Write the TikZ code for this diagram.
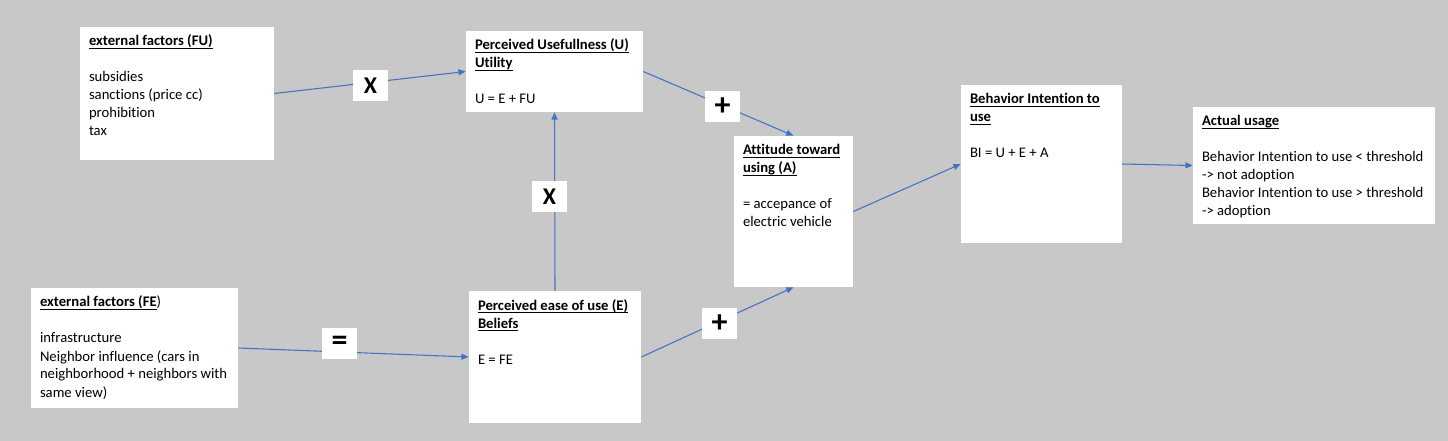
\documentclass[tikz,border=0pt]{standalone}
\usepackage{fontspec}
\setmainfont[Ligatures={NoCommon}]{Carlito}
\usetikzlibrary{arrows.meta}
\definecolor{bgc}{RGB}{200,200,200}
\definecolor{arrc}{RGB}{68,114,196}
\newdimen\pxu \pxu=0.75pt
\newcommand\myul[1]{\leavevmode\setbox0\hbox{#1}\rlap{\vrule width\wd0 height -1.5pt depth 2.2pt}\box0}
\begin{document}
\begin{tikzpicture}[x=0.75pt,y=-0.75pt,
  box/.style={fill=white,draw=none,inner sep=0pt},
  txt/.style={anchor=north west,align=left,inner sep=0pt,font=\fontsize{11}{13.5}\selectfont},
  lab/.style={fill=white,draw=none,inner sep=0pt,minimum width=35\pxu,minimum height=31\pxu,font=\fontsize{18}{20}\selectfont\bfseries},
  conn/.style={draw=arrc,line width=0.8pt,-{Triangle[length=5.5pt,width=4.5pt]}}]
\fill[bgc] (0,0) rectangle (1448,441);
\useasboundingbox (0,0) rectangle (1448,441);
% boxes
\node[box,minimum width=194\pxu,minimum height=133\pxu] (fu) at (177,93.5) {};
\node[box,minimum width=177\pxu,minimum height=81\pxu] (u) at (554.5,71.5) {};
\node[box,minimum width=119\pxu,minimum height=151\pxu] (a) at (793.5,211.5) {};
\node[box,minimum width=161\pxu,minimum height=158\pxu] (bi) at (1041.5,164) {};
\node[box,minimum width=242\pxu,minimum height=117\pxu] (act) at (1314,165.5) {};
\node[box,minimum width=207\pxu,minimum height=120\pxu] (fe) at (134.5,348) {};
\node[box,minimum width=172\pxu,minimum height=132\pxu] (e) at (555,357) {};
% texts
\node[txt] (fut) at ([shift={(9,6.4)}]fu.north west) {\strut\textbf{\myul{external factors (FU)}}\\[13.5pt]subsidies\\sanctions (price cc)\\prohibition\\tax};
\node[txt] (ut) at ([shift={(9,6.4)}]u.north west) {\strut\textbf{\myul{Perceived Usefullness (U)}}\\\textbf{\myul{Utility}}\\[13.5pt]U = E + FU};
\node[txt] (at) at ([shift={(9,6.4)}]a.north west) {\strut\textbf{\myul{Attitude toward}}\\\textbf{\myul{using (A)}}\\[13.5pt]= accepance of\\electric vehicle};
\node[txt] (bit) at ([shift={(9,6.4)}]bi.north west) {\strut\textbf{\myul{Behavior Intention to}}\\\textbf{\myul{use}}\\[13.5pt]BI = U + E + A};
\node[txt] (actt) at ([shift={(9,6.4)}]act.north west) {\strut\textbf{\myul{Actual usage}}\\[13.5pt]Behavior Intention to use < threshold\\-> not adoption\\Behavior Intention to use > threshold\\-> adoption};
\node[txt] (fet) at ([shift={(9,6.4)}]fe.north west) {\strut\textbf{\myul{external factors (FE}})\\[13.5pt]infrastructure\\Neighbor influence (cars in\\neighborhood + neighbors with\\same view)};
\node[txt] (et) at ([shift={(9,6.4)}]e.north west) {\strut\textbf{\myul{Perceived ease of use (E)}}\\\textbf{\myul{Beliefs}}\\[13.5pt]E = FE};
% connectors
\draw[conn] (fu.east) -- (u.west);
\draw[conn] (u.east) -- (a.north);
\draw[conn] (fe.east) -- (e.west);
\draw[conn] (e.east) -- (a.south);
\draw[conn] (e.north) -- (u.south);
\draw[conn] (a.east) -- (bi.west);
\draw[conn] (bi.east) -- (act.west);
% labels
\node[lab] (lx1) at (370.5,85.5) {X};
\node[lab,font=\fontsize{24}{24}\selectfont\bfseries] (lp1) at (722.5,106.5) {+};
\node[lab] (lx2) at (549.5,196.5) {X};
\node[lab,font=\fontsize{24}{24}\selectfont\bfseries] (lp2) at (719.5,323.5) {+};
\node[lab,font=\fontsize{24}{24}\selectfont\bfseries] (leq) at (339.5,343.5) {=};
\end{tikzpicture}
\end{document}
